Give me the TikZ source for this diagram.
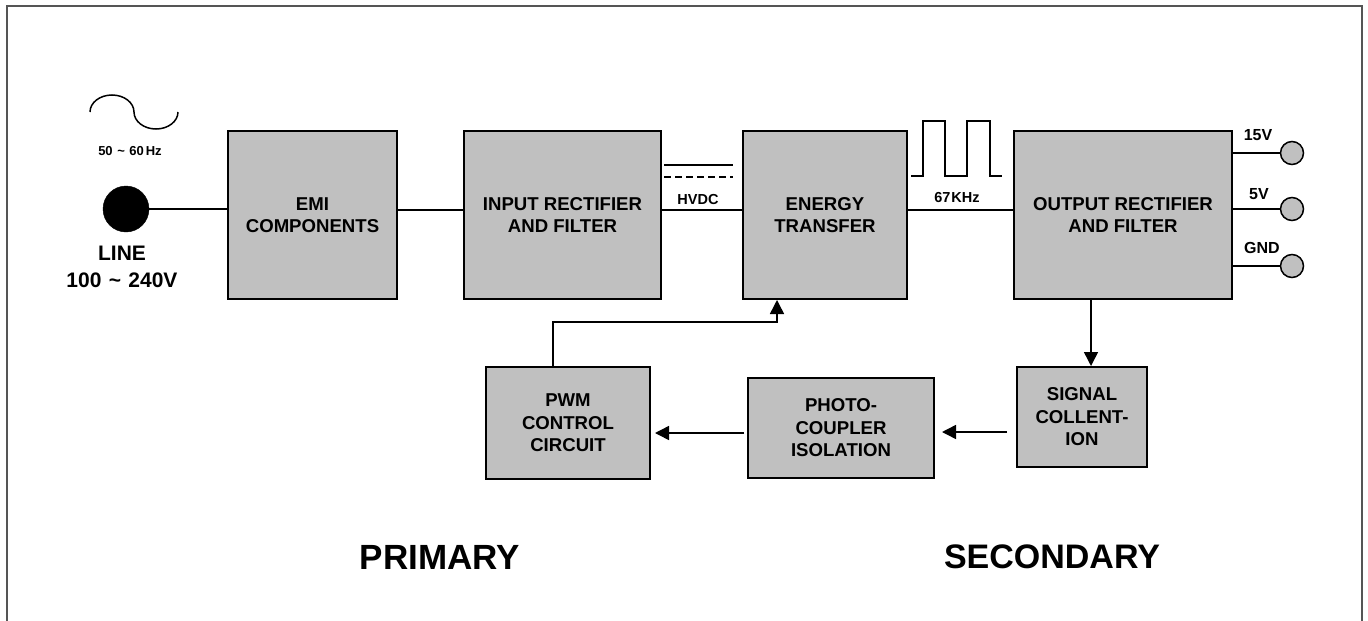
\documentclass[tikz,border=0pt]{standalone}
\usepackage{fontspec}
\setmainfont{Liberation Sans}
\usetikzlibrary{arrows.meta}
\begin{document}
\begin{tikzpicture}[x=1pt,y=-1pt,
  blk/.style={draw=black,line width=2pt,fill=boxgray,align=center,inner sep=0pt,
    font=\fontsize{18.6}{22.5}\selectfont\bfseries},
  wire/.style={line width=1.5pt,draw=black},
  arr/.style={wire,-{Triangle[length=14pt,width=14pt]}},
  lbl/.style={font=\fontsize{14.5}{16}\selectfont\bfseries,inner sep=0pt},
  tlbl/.style={font=\fontsize{16}{18}\selectfont\bfseries,inner sep=0pt},
  term/.style={circle,draw=black,line width=1.5pt,fill=boxgray,minimum size=23pt,inner sep=0pt}]
\definecolor{boxgray}{RGB}{192,192,192}
\definecolor{framegray}{RGB}{85,85,85}
\useasboundingbox (0,0) rectangle (1368,621);
% frame
\draw[framegray,line width=2pt] (6.5,622) -- (6.5,5.5) -- (1362,5.5) -- (1362,622);
% blocks
\node[blk,minimum width=169pt,minimum height=168pt] (emi) at (312.5,215) {EMI\\COMPONENTS};
\node[blk,minimum width=197pt,minimum height=168pt] (inp) at (562.5,215) {INPUT RECTIFIER\\AND FILTER};
\node[blk,minimum width=164pt,minimum height=168pt] (ener) at (825,215) {ENERGY\\TRANSFER};
\node[blk,minimum width=218pt,minimum height=168pt] (outb) at (1123,215) {OUTPUT RECTIFIER\\AND FILTER};
\node[blk,minimum width=130pt,minimum height=100pt] (sig) at (1082,417) {SIGNAL\\COLLENT-\\ION};
\node[blk,minimum width=186pt,minimum height=100pt] (photo) at (841,428) {PHOTO-\\COUPLER\\ISOLATION};
\node[blk,minimum width=164pt,minimum height=112pt] (pwm) at (568,423) {PWM\\CONTROL\\CIRCUIT};
% line input
\node[circle,fill=black,draw=black,minimum size=46pt,inner sep=0pt] (line) at (126,209) {};
\node[font=\fontsize{21}{27}\selectfont\bfseries,align=center] (linelbl) at (122,267) {LINE\\100\hspace{0.35em}\char`~\hspace{0.35em}240V};
\node[font=\fontsize{13}{15}\selectfont\bfseries,inner sep=0pt] (hz) at (130,151) {50\hspace{0.35em}\char`~\hspace{0.35em}60\kern2pt Hz};
\draw[wire] (90,112) arc[start angle=180,end angle=360,x radius=22,y radius=17]
  arc[start angle=180,end angle=0,x radius=22,y radius=17];
\coordinate (row) at (0,210);
\draw[wire] (line) -- (emi.west |- line);
\draw[wire] (emi.east |- row) -- (inp.west |- row);
\draw[wire] (inp.east |- row) -- (ener.west |- row);
\draw[wire] (ener.east |- row) -- (outb.west |- row);
% HVDC
\node[lbl] (hvdc) at (698,200) {HVDC};
\draw[wire] (664,165) -- (733,165);
\draw[wire,dash pattern=on 7pt off 4pt] (664,177) -- (733,177);
% pulse
\node[lbl] (khz) at (957,198) {67\kern1pt KHz};
\draw[wire] (911,176) -- (923,176) -- (923,121) -- (945,121) -- (945,176) -- (967,176)
  -- (967,121) -- (990,121) -- (990,176) -- (1002,176);
% terminals
\node[term] (t1) at (1292,153) {};
\node[term] (t2) at (1292,209) {};
\node[term] (t3) at (1292,266) {};
\draw[wire] (outb.east |- t1) -- (t1);
\draw[wire] (outb.east |- t2) -- (t2);
\draw[wire] (outb.east |- t3) -- (t3);
\node[tlbl] (l15) at (1258,135) {15V};
\node[tlbl] (l5) at (1259,194) {5V};
\node[tlbl] (lgnd) at (1262,248) {GND};
% feedback
\draw[arr] ([xshift=9pt]sig.north |- outb.south) -- ([xshift=9pt]sig.north);
\draw[arr,shorten <=9pt,shorten >=7pt] (sig.west |- 0,432) -- (photo.east |- 0,432);
\draw[arr,shorten <=3pt,shorten >=4pt] (photo.west |- 0,433) -- (pwm.east |- 0,433);
\coordinate (fb) at (777,322);
\draw[arr] ([xshift=-15pt]pwm.north) |- (fb) -- (fb |- ener.south);
% region labels
\node[font=\fontsize{35}{40}\selectfont\bfseries] (prim) at (440,557) {PRIMARY};
\node[font=\fontsize{34}{40}\selectfont\bfseries] (sec) at (1052,557) {SECONDARY};
\end{tikzpicture}
\end{document}
